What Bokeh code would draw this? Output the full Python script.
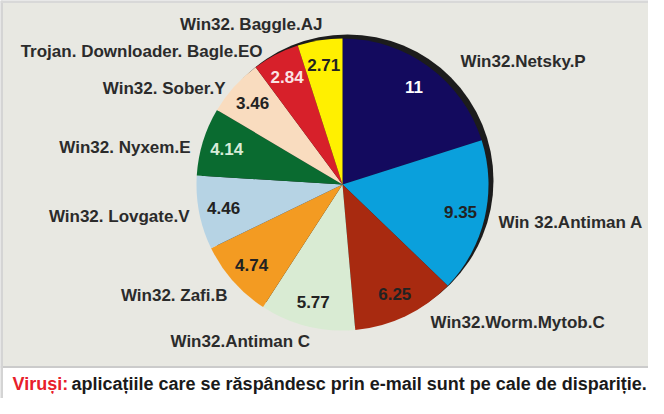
import numpy as np
from bokeh.plotting import figure
from bokeh.models import ColumnDataSource, Range1d
from bokeh.core.properties import value
from bokeh.embed import file_html
from bokeh.resources import INLINE

# ---- data (clockwise from 12 o'clock) ----
names = ["Win32.Netsky.P", "Win 32.Antiman A", "Win32.Worm.Mytob.C", "Win32.Antiman C",
         "Win32. Zafi.B", "Win32. Lovgate.V", "Win32. Nyxem.E", "Win32. Sober.Y",
         "Trojan. Downloader. Bagle.EO", "Win32. Baggle.AJ"]
values = [11, 9.35, 6.25, 5.77, 4.74, 4.46, 4.14, 3.46, 2.84, 2.71]
value_labels = ["11", "9.35", "6.25", "5.77", "4.74", "4.46", "4.14", "3.46", "2.84", "2.71"]
colors = ["#130a5e", "#0aa0dc", "#a82a10", "#d9ebd3", "#f39b22",
          "#b6d3e4", "#0a6b30", "#f9dcbf", "#d7202a", "#fff000"]
value_colors = ["#ffffff", "#222222", "#222222", "#222222", "#222222",
                "#222222", "#d8ecd8", "#222222", "#fbe4e4", "#222222"]
caption_red = "Viruși:"
caption_rest = "aplicațiile care se răspândesc prin e-mail sunt pe cale de dispariție."

# ---- layout (page pixel coordinates, y = -page_y) ----
W, H = 648, 398
cx, cy, R = 350, -192, 146
name_x = [468, 506, 438, 178, 235, 197, 198, 233, 270, 330]
name_y = [69, 230, 330, 349, 303, 224, 155, 96, 59, 32]
name_align = ["left", "left", "left", "left", "right", "right", "right", "right", "right", "right"]

p = figure(width=W, height=H, output_backend="svg", toolbar_location=None,
           x_range=Range1d(8, 8 + W), y_range=Range1d(-(8 + H), -8),
           min_border=0, background_fill_color="white", border_fill_color="white")
p.axis.visible = False
p.grid.visible = False
p.outline_line_color = None

# textured paper area
p.quad(left=8, right=8 + W, top=-8, bottom=-374, fill_color="#e8e8e2", line_color=None)
p.segment(x0=8, y0=-374.5, x1=8 + W, y1=-374.5, line_color="#cbcbcb", line_width=2)
p.segment(x0=9, y0=-8, x1=9, y1=-(8 + H), line_color="#d4d4d4", line_width=3)
p.segment(x0=8, y0=-9, x1=8 + W, y1=-9, line_color="#d8d8d8", line_width=3)

# pie
vals = np.array(values, dtype=float)
total = vals.sum()
cum_after = np.cumsum(vals)
cum_before = cum_after - vals
start = np.pi / 2 - 2 * np.pi * cum_before / total
end = np.pi / 2 - 2 * np.pi * cum_after / total
mid = (start + end) / 2
lr = 0.83 * R
src = ColumnDataSource(dict(start=start, end=end, color=colors,
                            lx=cx + lr * np.cos(mid), ly=cy + lr * np.sin(mid),
                            vl=value_labels, vc=value_colors))

# shadow
p.circle(x=cx + 5, y=cy + 4, radius=R, fill_color="#1c1c1c", line_color=None)
p.wedge(x=cx, y=cy, radius=R, start_angle="start", end_angle="end", direction="clock",
        fill_color="color", line_color=None, source=src)

p.text(x="lx", y="ly", text="vl", text_color="vc", source=src,
       text_font=value("Liberation Sans"), text_font_style="bold", text_font_size="17px",
       text_align="center", text_baseline="middle")

nsrc = ColumnDataSource(dict(x=name_x, y=[-v for v in name_y], t=names, a=name_align))
p.text(x="x", y="y", text="t", text_align="a", source=nsrc, text_color="#2b2b2b",
       text_font=value("Liberation Sans"), text_font_style="bold", text_font_size="17px",
       text_baseline="middle")

cap_font = value("Liberation Sans")
p.text(x=[20], y=[-391], text=[caption_red], text_color="#e8202a", text_font=cap_font,
       text_font_style="bold", text_font_size="18px", text_baseline="middle")
p.text(x=[79], y=[-391], text=[caption_rest], text_color="#1a1a1a", text_font=cap_font,
       text_font_style="bold", text_font_size="18px", text_baseline="middle")

open("out.html", "w").write(file_html(p, INLINE))
